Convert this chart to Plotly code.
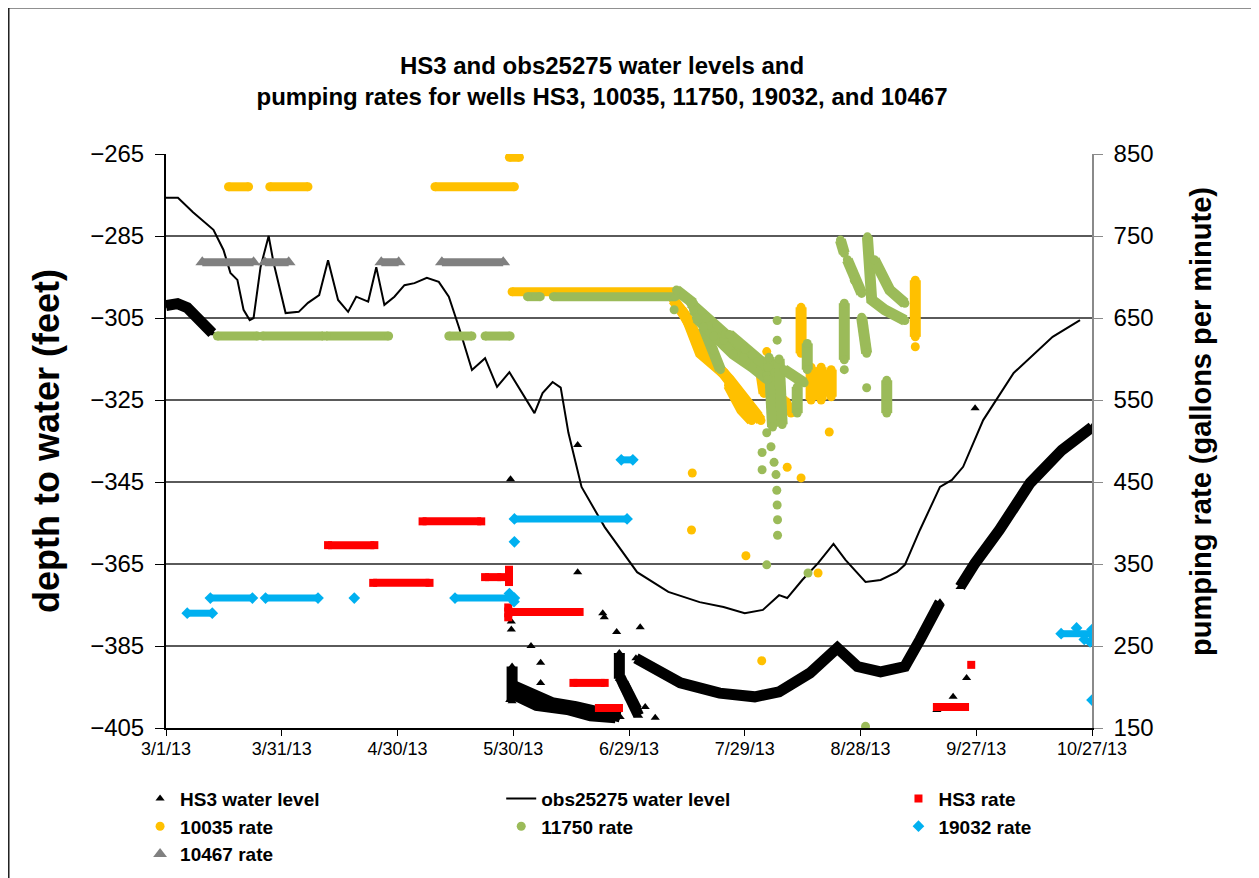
import pandas as pd
import plotly.graph_objects as go

START = pd.Timestamp("2013-03-01")
FONT = "Liberation Sans, Arial, sans-serif"

# x positions are days after 3/1/13
# ---- obs25275 water level (left axis, feet) ----
obs_days = [0, 3.1, 7.0, 12.3, 14.9, 16.7, 18.5, 20.1, 21.7, 22.7, 24.5, 26.6, 27.9, 31.0,
            34.4, 36.8, 39.7, 42.0, 44.6, 47.2, 49.3, 52.4, 54.5, 56.6, 59.2, 61.8, 64.4,
            67.6, 70.7, 73.3, 75.9, 79.3, 82.7, 85.8, 89.0, 92.3, 95.5, 97.6, 100.2, 102.3,
            104.3, 107.7, 113.7, 122.1, 130.2, 138.3, 144.5, 150.0, 154.7, 158.9, 161.0,
            164.9, 169.0, 173.0, 176.1, 181.3, 185.2, 189.4, 191.5, 195.4, 200.6, 203.7,
            206.6, 211.8, 219.7, 229.8, 236.9]
obs_level = [-275.7, -275.7, -279.2, -283.5, -288.4, -294, -295.7, -303, -305.5, -305,
             -292.6, -285, -291.6, -303.8, -303.5, -301.3, -299.4, -290.9, -300.6, -303.5,
             -299.8, -301, -292.6, -301.8, -299.8, -297, -296.5, -295.2, -296.2, -299.8,
             -307.2, -317.7, -314.8, -321.8, -318.2, -323.3, -328.2, -323.3, -320.6, -322,
             -333, -346.2, -356, -367, -371.8, -374.3, -375.5, -377, -376.2, -372.6, -373.3,
             -368.9, -364.8, -360.1, -364, -369.4, -368.9, -367, -365.2, -356.7, -346.2,
             -344.5, -341.3, -329.9, -318.4, -309.6, -305.5]

# ---- HS3 water level (left axis): dense bands of readings and single readings ----
hs3_band_days = [[0, 3, 5.5, 8, 10.5, 12],
                 [89.7, 95, 100, 106.2, 112, 117.7],
                 [90.5, 96, 104, 110, 116.5],
                 [121.8, 133.3, 143.5, 152.6, 158.9, 166.9, 174, 179.2, 185.2, 191.5, 195.4, 198.5, 200.6],
                 [205.8, 209.7, 216, 224, 232.2, 240],
                 [89.7, 89.7], [117.5, 117.5], [117.7, 120, 122.5], [118.5, 122]]
hs3_band_level = [[-302, -301.5, -302.5, -305, -307.5, -308.7],
                  [-394.5, -396.5, -398.8, -399.8, -401, -402.3],
                  [-397, -399.5, -400.5, -402, -402.5],
                  [-388, -394, -396.5, -397.4, -396.2, -391.6, -385.5, -390, -391.3, -390, -383.5, -377.9, -374.3],
                  [-370.6, -364.8, -356.7, -345.2, -337.2, -331.6],
                  [-390, -398.5], [-386.7, -393], [-392.6, -397.5, -402], [-394, -400.5]]
hs3_pt_days = [89.3, 89.5, 89.5, 89.5, 94.6, 97.1, 97.1, 89.1, 106.7, 106.7, 113.2, 113.6,
               116.8, 122.9, 124.2, 126.8, 199.8, 200.5, 204, 207.5, 209.7]
hs3_pt_level = [-344.3, -372.6, -379, -381, -385, -389.1, -394, -398.2, -336, -367, -377, -378,
                -381.6, -380.4, -399.9, -402.5, -400.6, -400, -397.4, -392.8, -327]

# ---- pumping rates (right axis, gpm): steady runs, dense clusters, single readings ----
hs3r_start = [42.0, 53.7, 66.5, 82.7, 89.5, 105.6, 112.2, 199.8]
hs3r_end = [54.0, 68.3, 81.7, 86.9, 107.2, 113.7, 117.4, 207.1]
hs3r_rate = [373, 327, 402, 334, 291.5, 205, 174.4, 175.6]
hs3r_stroke_days = [[88.9, 88.9], [88.7, 88.7]]
hs3r_stroke_rate = [[343, 328], [297, 285]]
hs3r_pt_days = [208.7]
hs3r_pt_rate = [227]

r10035_start = [16.2, 26.9, 69.7, 89.0, 89.7]
r10035_end = [21.4, 36.8, 90.3, 91.6, 132.0]
r10035_rate = [810, 810, 810, 846, 682]
r10035_stroke_days = [[131.5, 134.9, 138.5, 144.5, 149.7, 152.3, 154.2],
                      [133.5, 137, 141, 146, 150, 153.5],
                      [145.8, 149.2, 151.8],
                      [154.2, 155], [160.2, 162], [164.6, 164.6], [167.2, 167.2], [169.8, 169.8],
                      [172.4, 172.4], [194.2, 194.2]]
r10035_stroke_rate = [[672, 651, 607, 583, 550, 534, 525],
                      [660, 630, 600, 575, 548, 530],
                      [568, 538, 525],
                      [583, 558], [550, 534], [663, 607], [590, 550], [590, 550],
                      [587, 554], [696, 627]]
r10035_pt_days = [155.7, 171.9, 136.4, 136.2, 161, 164.6, 150.3, 154.4, 169, 194.2]
r10035_pt_rate = [609, 511, 461, 391.5, 468, 455, 360, 232, 339, 615]

r11750_start = [13.3, 25.0, 41.5, 73.3, 82.7, 93.7, 100.4]
r11750_end = [23.7, 40.7, 57.7, 79.3, 89.2, 97.0, 132.0]
r11750_rate = [628, 628, 628, 628, 628, 676, 676]
r11750_stroke_days = [[132.3, 136.7], [136.7, 140.6, 144.5, 149.7, 155.7], [139.3, 141.9, 143.7],
                      [136, 140, 145, 150], [137.5, 142, 147, 152, 156],
                      [146, 152, 156], [156.3, 157.2], [158.9, 159.7], [160.2, 165.4],
                      [163.6, 163.6], [166.2, 166.2], [175.8, 175.8], [174.8, 175.8],
                      [176.6, 178.4, 180.3], [180.3, 181.6], [181.8, 182.9, 186.3, 191.5],
                      [183.6, 187.6, 191.5], [186.8, 186.8]]
r11750_stroke_rate = [[684, 668], [660, 641, 623, 602, 580], [639, 611, 587],
                      [668, 650, 630, 612], [650, 628, 606, 590, 575],
                      [630, 605, 590], [602, 517], [600, 520], [587, 571],
                      [566, 534], [619, 587], [668, 599], [745, 729],
                      [721, 696, 680], [651, 607], [749, 672, 660, 647],
                      [721, 684, 668], [574, 534]]
r11750_pt_days = [131.7, 158.4, 158.4, 155.7, 156.8, 157.6, 158.1, 158.3, 158.4, 158.5, 158.5,
                  154.5, 154.5, 175.8, 181.6, 166.4, 155.7, 181.3]
r11750_pt_rate = [660, 647, 623, 510, 493, 474, 459, 440, 422, 404, 385,
                  486, 465, 587, 565, 339, 349, 152]

r19032_start = [5.5, 11.5, 25.8, 74.9, 90.3, 118.0, 232.0]
r19032_end = [12.0, 22.4, 39.4, 90.3, 119.5, 121.0, 240.0]
r19032_rate = [290, 308.5, 308.5, 308.5, 405, 477, 265]
r19032_pt_days = [48.8, 90.3, 89.0, 90.2, 236, 238, 239.5, 240, 240]
r19032_pt_rate = [308.5, 377, 314, 304, 272, 258, 255, 270, 184]

r10467_start = [9.4, 25.6, 55.8, 71.5]
r10467_end = [22.7, 31.8, 60.3, 87.4]
r10467_rate = [718, 718, 718, 718]

tick_dates = ["2013-03-01", "2013-03-31", "2013-04-30", "2013-05-30", "2013-06-29",
              "2013-07-29", "2013-08-28", "2013-09-27", "2013-10-27"]
tick_text = ["3/1/13", "3/31/13", "4/30/13", "5/30/13", "6/29/13",
             "7/29/13", "8/28/13", "9/27/13", "10/27/13"]
left_ticks = [-405, -385, -365, -345, -325, -305, -285, -265]
right_ticks = [150, 250, 350, 450, 550, 650, 750, 850]


def to_date(d):
    if d is None:
        return None
    return (START + pd.Timedelta(days=d)).strftime("%Y-%m-%d %H:%M")


def join_strokes(day_lists, value_lists):
    xs, ys = [], []
    for dl, vl in zip(day_lists, value_lists):
        xs += [to_date(d) for d in dl] + [None]
        ys += list(vl) + [None]
    return xs, ys


def add_series(fig, name, color, symbol, size, yaxis, legend,
               runs=None, run_width=9, strokes=None, stroke_width=9, pts=None):
    # thick lines stand in for the runs of overlapping markers
    mx, my = [], []
    groups = []
    if runs:
        s, e, v = runs
        groups.append(([[a, b] for a, b in zip(s, e)], [[r, r] for r in v], run_width))
    if strokes:
        groups.append((strokes[0], strokes[1], stroke_width))
    for dls, vls, w in groups:
        lx, ly = join_strokes(dls, vls)
        fig.add_trace(go.Scatter(x=lx, y=ly, mode="lines", yaxis=yaxis, showlegend=False,
                                 line=dict(color=color, width=w), hoverinfo="skip"))
        mx += [to_date(d) for dl in dls for d in dl]
        my += [val for vl in vls for val in vl]
    if pts:
        mx += [to_date(d) for d in pts[0]]
        my += list(pts[1])
    fig.add_trace(go.Scatter(x=mx, y=my, mode="markers", name=name, yaxis=yaxis, legend=legend,
                             marker=dict(color=color, symbol=symbol, size=size, line=dict(width=0))))


fig = go.Figure()

# water levels (left axis)
add_series(fig, "HS3 water level", "black", "triangle-up", 8, "y", "legend",
           strokes=(hs3_band_days, hs3_band_level), stroke_width=11,
           pts=(hs3_pt_days, hs3_pt_level))
fig.add_trace(go.Scatter(x=[to_date(d) for d in obs_days], y=obs_level, mode="lines",
                         name="obs25275 water level", legend="legend2",
                         line=dict(color="black", width=2)))

# pumping rates (right axis)
add_series(fig, "HS3 rate", "#FF0000", "square", 8, "y2", "legend3",
           runs=(hs3r_start, hs3r_end, hs3r_rate), run_width=8,
           strokes=(hs3r_stroke_days, hs3r_stroke_rate), stroke_width=8,
           pts=(hs3r_pt_days, hs3r_pt_rate))
add_series(fig, "10035 rate", "#FFC000", "circle", 9, "y2", "legend",
           runs=(r10035_start, r10035_end, r10035_rate), run_width=9,
           strokes=(r10035_stroke_days, r10035_stroke_rate), stroke_width=11,
           pts=(r10035_pt_days, r10035_pt_rate))
add_series(fig, "11750 rate", "#9BBB59", "circle", 9, "y2", "legend2",
           runs=(r11750_start, r11750_end, r11750_rate), run_width=9,
           strokes=(r11750_stroke_days, r11750_stroke_rate), stroke_width=11,
           pts=(r11750_pt_days, r11750_pt_rate))
add_series(fig, "19032 rate", "#00B0F0", "diamond", 9, "y2", "legend3",
           runs=(r19032_start, r19032_end, r19032_rate), run_width=7,
           pts=(r19032_pt_days, r19032_pt_rate))
add_series(fig, "10467 rate", "#808080", "triangle-up", 12, "y2", "legend",
           runs=(r10467_start, r10467_end, r10467_rate), run_width=8)

legend_common = dict(font=dict(family=FONT, size=19, color="black", weight="bold"),
                     bgcolor="rgba(0,0,0,0)", borderwidth=0, orientation="v",
                     xanchor="left", yanchor="top", y=-0.09, itemsizing="trace")

fig.update_layout(
    width=1259, height=878,
    margin=dict(l=158, r=175, t=146, b=158),
    paper_bgcolor="white", plot_bgcolor="white",
    title=dict(text="<b>HS3 and obs25275 water levels and<br>pumping rates for wells HS3, 10035, 11750, 19032, and 10467</b>",
               x=0.4718, xref="container", xanchor="center",
               y=0.925, yref="container", yanchor="middle",
               font=dict(family=FONT, size=24, color="black")),
    xaxis=dict(type="date", range=[tick_dates[0], tick_dates[-1]],
               tickvals=tick_dates, ticktext=tick_text, showgrid=False, zeroline=False,
               showline=True, linecolor="black", linewidth=2, ticks="outside", ticklen=6,
               tickcolor="black", ticklabelstandoff=-3,
               tickfont=dict(family=FONT, size=18, color="black")),
    yaxis=dict(range=[-405, -265], tickvals=left_ticks, showgrid=True, gridcolor="#5a5a5a",
               gridwidth=1.6, zeroline=False, showline=True, linecolor="black", linewidth=2,
               ticks="outside", ticklen=9, tickcolor="black", ticklabelstandoff=6,
               tickfont=dict(family=FONT, size=24, color="black")),
    yaxis2=dict(range=[150, 850], tickvals=right_ticks, overlaying="y", side="right",
                showgrid=False, zeroline=False, showline=True, linecolor="#8a8a8a", linewidth=1.5,
                ticks="outside", ticklen=9, tickcolor="#8a8a8a", ticklabelstandoff=6,
                tickfont=dict(family=FONT, size=24, color="black")),
    legend=dict(x=-0.028, **legend_common),
    legend2=dict(x=0.362, **legend_common),
    legend3=dict(x=0.791, **legend_common),
    annotations=[
        dict(text="<b>depth to water (feet)</b>", xref="paper", yref="paper", x=-0.1296, y=0.5,
             textangle=-90, showarrow=False, xanchor="center", yanchor="middle",
             font=dict(family=FONT, size=36, color="black")),
        dict(text="<b>pumping rate (gallons per minute)</b>", xref="paper", yref="paper",
             x=1.1177, y=0.535, textangle=-90, showarrow=False, xanchor="center", yanchor="middle",
             font=dict(family=FONT, size=29, color="black")),
    ],
    shapes=[dict(type="rect", xref="paper", yref="paper", x0=-0.1706, x1=1.1739,
                 y0=-0.3, y1=1.256, line=dict(color="#222222", width=3), layer="below")],
)

fig.write_html("out.html")
